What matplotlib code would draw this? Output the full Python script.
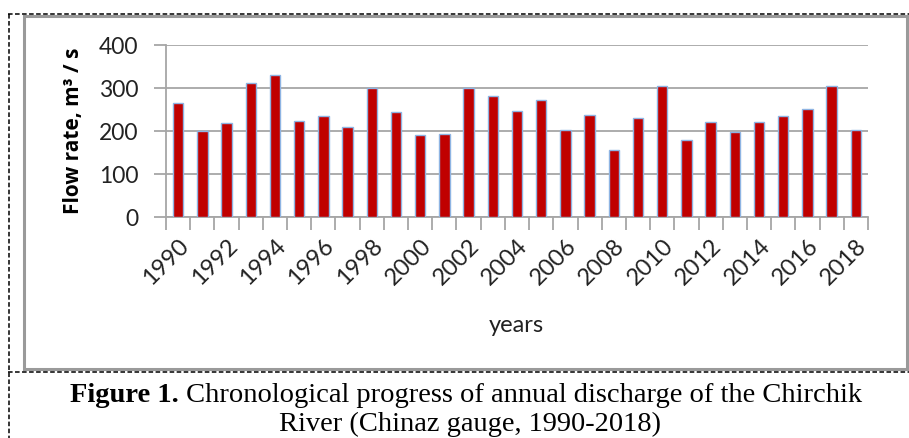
import numpy as np
import matplotlib
matplotlib.use('Agg')
import matplotlib.pyplot as plt
from matplotlib.lines import Line2D
from matplotlib.patches import Rectangle

# annual discharge, Chirchik River (Chinaz gauge)
years = list(range(1990, 2019))
flow = [265, 199, 217, 312, 330, 223, 235, 208, 300, 244, 190, 193,
        299, 280, 247, 271, 202, 237, 154, 229, 304, 178, 220, 197,
        220, 235, 250, 304, 202]
yticks = [0, 100, 200, 300, 400]

W, H = 909, 439
fig = plt.figure(figsize=(W / 100, H / 100), dpi=100)

def fx(px):
    return px / W

def fy(py):
    return 1 - py / H

# plot area
ax = fig.add_axes([fx(166), fy(217.5), fx(868) - fx(166), fy(46) - fy(217.5)])
x = np.arange(len(years))
ax.bar(x, flow, width=0.43, color='#C00000', edgecolor='#8EB4E3', linewidth=1.0, zorder=3)
ax.set_xlim(-0.5, len(years) - 0.5)
ax.set_ylim(0, 400)
ax.set_yticks(yticks)
ax.yaxis.grid(True, color='#A6A6A6', linewidth=1.3, zorder=0)

grey = '#A6A6A6'
for s in ['top', 'right']:
    ax.spines[s].set_visible(False)
for s in ['left', 'bottom']:
    ax.spines[s].set_color(grey)
    ax.spines[s].set_linewidth(1.3)

tick_font = dict(family='Lato', size=17, color='#222222')
ax.set_xticks(x[::2])
ax.set_xticklabels([str(y) for y in years[::2]], rotation=45, ha='right',
                   va='top', rotation_mode='anchor', fontdict=tick_font)
ax.set_xticks(np.arange(-0.5, len(years), 1.0), minor=True)
ax.tick_params(axis='x', which='major', length=0, pad=13)
ax.tick_params(axis='x', which='minor', length=9, width=1.3, color=grey)
ax.tick_params(axis='y', length=9, width=1.3, color=grey, pad=11)
for t in ax.get_yticklabels():
    t.set_fontfamily('Lato')
    t.set_fontsize(16.5)
    t.set_color('#222222')

ax.set_ylabel('Flow rate, m³ / s', family='Open Sans', fontsize=15, fontweight='bold')
ax.yaxis.set_label_coords(fx(84), fy(131), transform=fig.transFigure)
fig.text(fx(516), fy(326), 'years', family='Lato', fontsize=17, color='#222222',
         ha='center', va='center')

# chart border and dashed frame
fig.patches.append(Rectangle((fx(24), fy(370)), fx(907) - fx(24), fy(17) - fy(370),
                             transform=fig.transFigure, fill=False,
                             edgecolor='#9A9A9A', linewidth=2.2))
dash = dict(color='black', linewidth=1.1, linestyle=(0, (3, 1.6)), transform=fig.transFigure)
fig.lines.append(Line2D([fx(8), fx(909)], [fy(15), fy(15)], **dash))
fig.lines.append(Line2D([fx(9), fx(9)], [fy(15), fy(439)], **dash))
fig.lines.append(Line2D([fx(8), fx(909)], [fy(373), fy(373)], **dash))

# caption
cap = dict(family='Liberation Serif', fontsize=20.5, color='black', va='baseline')
r = fig.canvas.get_renderer()
t1 = fig.text(0, fy(402), 'Figure 1.', fontweight='bold', **cap)
t2 = fig.text(0, fy(402), ' Chronological progress of annual discharge of the Chirchik', **cap)
w1 = t1.get_window_extent(r).width
w2 = t2.get_window_extent(r).width
x0 = 466 - (w1 + w2) / 2
t1.set_x(fx(x0))
t2.set_x(fx(x0 + w1))
fig.text(fx(470), fy(431), 'River (Chinaz gauge, 1990-2018)', ha='center', **cap)

fig.savefig('out.png', dpi=100)
